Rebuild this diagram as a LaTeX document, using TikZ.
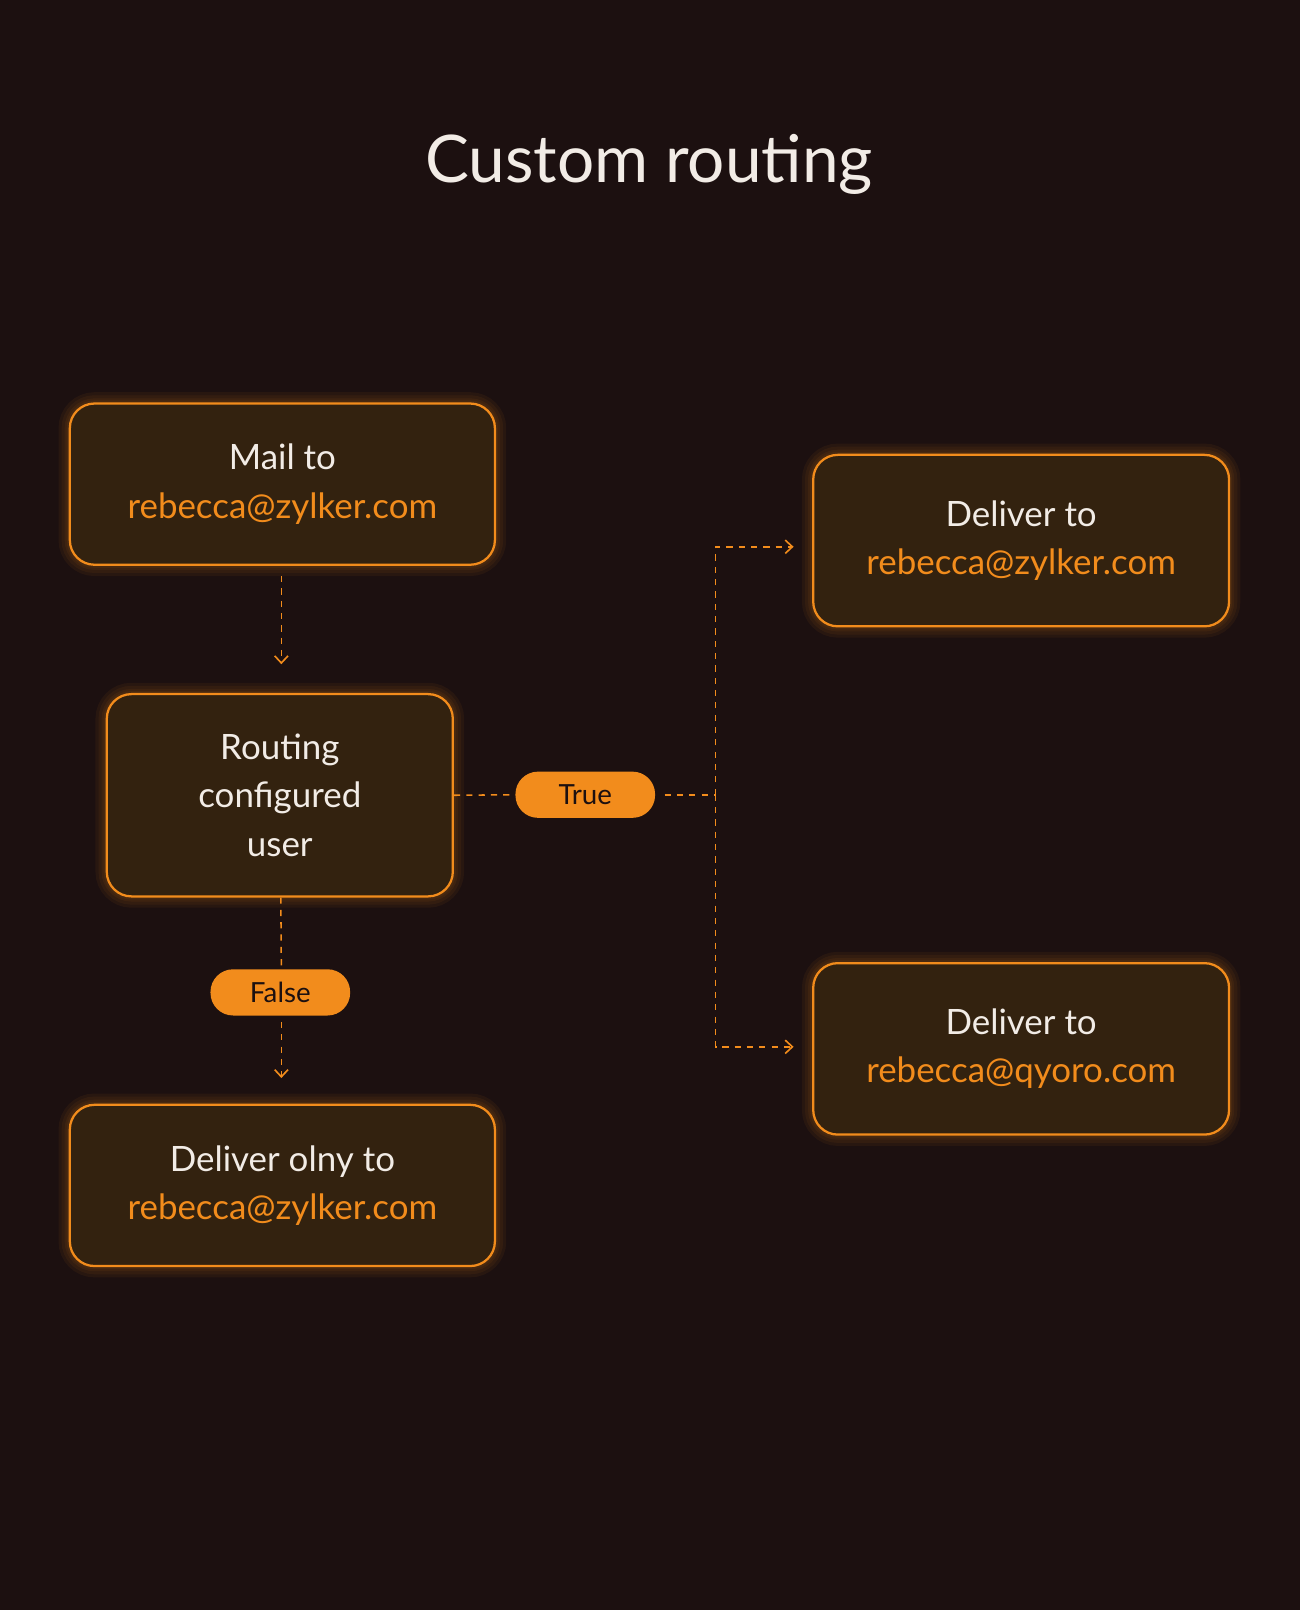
\documentclass[tikz,border=0pt]{standalone}
\usepackage{fontspec}
\setmainfont{Lato}
\usetikzlibrary{arrows.meta,calc}
\definecolor{bg}{HTML}{1C1010}
\definecolor{boxfill}{HTML}{33220F}
\definecolor{org}{HTML}{F28C1C}
\definecolor{txt}{HTML}{F2ECE6}
\tikzset{
 card/.style={draw=org,line width=2.2pt,fill=boxfill,rounded corners=24pt,inner sep=0pt,align=center,text=txt,font=\fontsize{34}{47}\selectfont},
 glow/.style={draw=org,line width=#1,opacity=0.06,rounded corners=24pt},
 pill/.style={fill=org,rounded corners=22pt,minimum width=136pt,minimum height=45pt,inner sep=0pt,text=bg,font=\fontsize{27}{30}\selectfont},
 conn/.style={draw=org,line width=1.5pt,dash pattern=on 6pt off 6pt},
 arr/.style={conn,-{Straight Barb[length=7pt,width=13pt,line width=1.6pt]}},
}
\newcommand{\orng}[1]{\textcolor{org}{#1}}
\begin{document}
\begin{tikzpicture}[x=1pt,y=-1pt]
\fill[bg] (0,0) rectangle (1266,1568);
\useasboundingbox (0,0) rectangle (1266,1568);
\node[text=txt,font=\fontsize{64}{70}\selectfont] (title) at (632,160) {Custom routing};
% glows
\foreach \a/\b/\c/\d in {68/393/482/550,104/676/441/873,68/1076/482/1233,792/443/1197/610,792/938/1197/1105}{
 \foreach \w in {6,10,16,22}{\draw[glow=\w pt] (\a,\b) rectangle (\c,\d);}
}
\node[card,minimum width=414pt,minimum height=157pt] (mail) at (275,471.5) {Mail to\\\orng{rebecca@zylker.com}};
\node[card,minimum width=337pt,minimum height=197pt] (route) at (272.5,774.5) {Routing\\configured\\user};
\node[card,minimum width=414pt,minimum height=157pt] (only) at (275,1154.5) {Deliver olny to\\\orng{rebecca@zylker.com}};
\node[card,minimum width=405pt,minimum height=167pt] (dz) at (994.5,526.5) {Deliver to\\\orng{rebecca@zylker.com}};
\node[card,minimum width=405pt,minimum height=167pt] (dq) at (994.5,1021.5) {Deliver to\\\orng{rebecca@qyoro.com}};
\node[pill] (true) at (570,774) {True};
\node[pill] (false) at (273,966.5) {False};
\coordinate (j) at (697,774);
\draw[arr] ($(mail.south)+(-1,10)$) -- ($(route.north)+(1.5,-28)$);
\draw[conn] (route.east) -- (true.west);
\draw[conn] ($(true.east)+(9,0)$) -- (j);
\draw[arr] (j) |- ($(dz.west)+(-18,6)$);
\draw[arr] (j) |- ($(dq.west)+(-18,-2)$);
\draw[conn] ($(route.south)+(1,0)$) -- ($(false.north)+(1,0)$);
\draw[arr] ($(false.south)+(1,6)$) -- ($(only.north)+(-1,-25)$);
\end{tikzpicture}
\end{document}
